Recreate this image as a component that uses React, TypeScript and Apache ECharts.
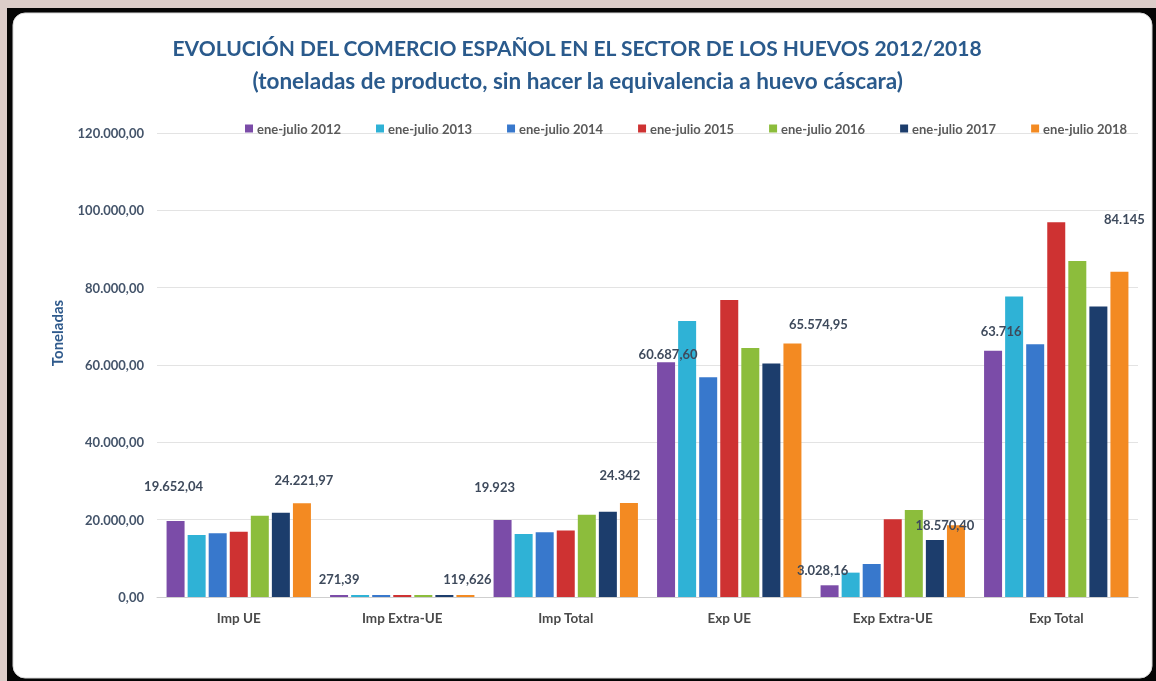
import React, { useEffect, useRef } from "react";
import * as echarts from "echarts";

const categories = ["Imp UE", "Imp Extra-UE", "Imp Total", "Exp UE", "Exp Extra-UE", "Exp Total"];
const seriesNames = [
  "ene-julio 2012",
  "ene-julio 2013",
  "ene-julio 2014",
  "ene-julio 2015",
  "ene-julio 2016",
  "ene-julio 2017",
  "ene-julio 2018",
];
const v2012 = [19652.04, 271.39, 19923, 60687.6, 3028.16, 63716];
const v2013 = [16040, 240, 16280, 71400, 6300, 77700];
const v2014 = [16480, 260, 16740, 56800, 8540, 65340];
const v2015 = [16900, 280, 17180, 76800, 20100, 96900];
const v2016 = [21040, 230, 21270, 64380, 22500, 86880];
const v2017 = [21820, 250, 22070, 60400, 14750, 75150];
const v2018 = [24221.97, 119.626, 24342, 65574.95, 18570.4, 84145];
const labels2012 = ["19.652,04", "271,39", "19.923", "60.687,60", "3.028,16", "63.716"];
const labels2018 = ["24.221,97", "119,626", "24.342", "65.574,95", "18.570,40", "84.145"];
const yTicks = [0, 20000, 40000, 60000, 80000, 100000, 120000];

const allValues = [v2012, v2013, v2014, v2015, v2016, v2017, v2018];
const colors = ["#7B4CA8", "#2FB2D6", "#3878CC", "#CE3232", "#8CBD3C", "#1C3D6C", "#F38A22"];

const FONT = "Lato, 'Open Sans', sans-serif";

function fmtTick(v: number): string {
  const s = Math.round(v).toString().replace(/\B(?=(\d{3})+(?!\d))/g, ".");
  return s + ",00";
}

export default function App() {
  const ref = useRef<HTMLDivElement>(null);
  useEffect(() => {
    if (!ref.current) return;
    const chart = echarts.init(ref.current, null, { renderer: "svg" });

    const off2012 = [[-2, -24], [0, -5], [-8, -21], [2, 3], [-7, -4], [8, -8]];
    const off2018 = [[2, -12], [2, -5], [-9, -16], [26, -8], [-11, 11], [5, -41]];

    const labelStyle = {
      fontFamily: FONT,
      fontSize: 13,
      fontWeight: "bold",
      color: "#3E4A5C",
    };

    const series = allValues.map((vals, si) => {
      const data = vals.map((v, ci) => {
        if (si === 0 || si === 6) {
          const txt = si === 0 ? labels2012[ci] : labels2018[ci];
          const off = si === 0 ? off2012[ci] : off2018[ci];
          return {
            value: v,
            label: {
              show: true,
              position: "top",
              formatter: () => txt,
              offset: off,
              ...labelStyle,
            },
          };
        }
        return v;
      });
      return {
        name: seriesNames[si],
        type: "bar",
        data,
        barWidth: 18,
        barGap: "17%",
        barMinHeight: 2,
        itemStyle: { color: colors[si] },
        z: 3,
      };
    });

    chart.setOption({
      animation: false,
      backgroundColor: "transparent",
      graphic: [
        { type: "rect", z: -10, shape: { x: 0, y: 0, width: 1156, height: 681 }, style: { fill: "#dccdc9" } },
        { type: "rect", z: -9, shape: { x: 7, y: 8, width: 1149, height: 673 }, style: { fill: "#050505" } },
        {
          type: "rect",
          z: -8,
          shape: { x: 13, y: 13, width: 1139, height: 665, r: 12 },
          style: { fill: "#ffffff", stroke: "#d8d8d8", lineWidth: 1 },
        },
        {
          type: "text",
          z: 5,
          left: "center",
          top: 37,
          style: {
            text: "EVOLUCIÓN DEL COMERCIO ESPAÑOL EN EL SECTOR DE LOS HUEVOS 2012/2018",
            fontFamily: FONT,
            fontSize: 21,
            fontWeight: "bold",
            fill: "#2A5A8C",
          },
        },
        {
          type: "text",
          z: 5,
          left: "center",
          top: 69,
          style: {
            text: "(toneladas de producto, sin hacer la equivalencia a huevo cáscara)",
            fontFamily: FONT,
            fontSize: 22.5,
            fontWeight: "bold",
            fill: "#2A5A8C",
          },
        },
        {
          type: "text",
          z: 5,
          x: 57,
          y: 333,
          rotation: Math.PI / 2,
          style: {
            text: "Toneladas",
            fontFamily: FONT,
            fontSize: 15,
            fontWeight: "bold",
            fill: "#2F5A8C",
            align: "center",
            verticalAlign: "middle",
          },
        },
      ],
      legend: {
        data: seriesNames,
        left: 240,
        top: 117,
        icon: "rect",
        itemWidth: 8,
        itemHeight: 8,
        itemGap: 35,
        textStyle: { fontFamily: FONT, fontSize: 13, fontWeight: "bold", color: "#5A5A5A", padding: [0, 0, 0, -1] },
      },
      grid: { left: 157, right: 18, top: 133, bottom: 84, containLabel: false },
      xAxis: {
        type: "category",
        data: categories,
        axisTick: { show: false },
        axisLine: { lineStyle: { color: "#CFCFCF", width: 1 } },
        axisLabel: {
          margin: 14,
          fontFamily: FONT,
          fontSize: 13.5,
          fontWeight: "bold",
          color: "#4A4A4A",
        },
      },
      yAxis: {
        type: "value",
        min: yTicks[0],
        max: yTicks[yTicks.length - 1],
        interval: 20000,
        axisLine: { show: false },
        axisTick: { show: false },
        splitLine: { lineStyle: { color: "#E3E3E3", width: 1 } },
        axisLabel: {
          margin: 13,
          formatter: (v: number) => fmtTick(v),
          fontFamily: FONT,
          fontSize: 13,
          fontWeight: "bold",
          color: "#44546A",
        },
      },
      series,
    });
    return () => chart.dispose();
  }, []);
  return <div ref={ref} style={{ position: "fixed", left: 0, top: 0, width: 1156, height: 681 }} />;
}
